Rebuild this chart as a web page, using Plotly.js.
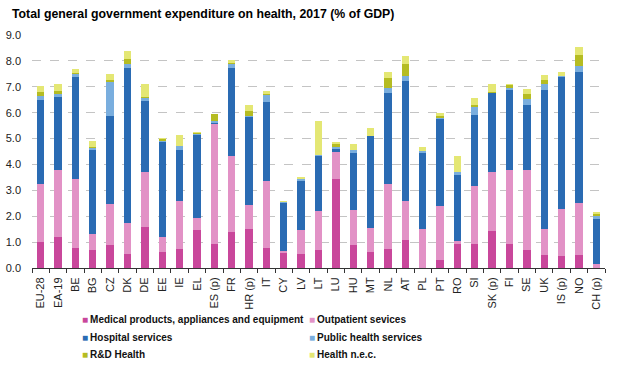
<!DOCTYPE html>
<html>
<head>
<meta charset="utf-8">
<script src="https://cdn.plot.ly/plotly-3.0.1.min.js"></script>
<style>html,body{margin:0;padding:0;background:#fff;}#chart{width:620px;height:368px;}</style>
</head>
<body>
<div id="chart"></div>
<script>
const categories = ["EU-28","EA-19","BE","BG","CZ","DK","DE","EE","IE","EL","ES (p)","FR","HR (p)","IT","CY","LV","LT","LU","HU","MT","NL","AT","PL","PT","RO","SI","SK (p)","FI","SE","UK","IS (p)","NO","CH (p)"];

const medical    = [0.99,1.18,0.77,0.68,0.89,0.53,1.57,0.62,0.73,1.48,0.94,1.41,1.52,0.78,0.58,0.53,0.71,3.43,0.89,0.62,0.73,1.09,0.00,0.32,0.93,0.91,1.44,0.93,0.71,0.50,0.46,0.50,0.00];
const outpatient = [2.26,2.61,2.66,0.63,1.58,1.21,2.13,0.56,1.87,0.46,4.63,2.92,0.91,2.59,0.06,0.92,1.49,1.07,1.36,0.92,2.50,1.49,1.50,2.08,0.12,2.24,2.26,2.84,3.06,1.00,1.82,2.02,0.17];
const hospital   = [3.24,2.81,3.94,3.25,3.40,6.00,2.75,3.67,1.96,3.20,0.02,3.41,3.42,3.03,1.87,1.90,2.11,0.09,2.18,3.54,3.54,4.66,2.93,3.35,2.55,2.76,3.05,3.11,2.54,5.38,5.11,5.06,1.72];
const publicHealth = [0.17,0.11,0.11,0.08,1.33,0.13,0.11,0.07,0.14,0.03,0.07,0.13,0.03,0.27,0.03,0.07,0.05,0.08,0.11,0.01,0.20,0.19,0.08,0.03,0.09,0.30,0.02,0.06,0.23,0.22,0.01,0.22,0.13];
const rdHealth   = [0.13,0.14,0.04,0.04,0.06,0.19,0.03,0.08,0.02,0.03,0.28,0.06,0.20,0.05,0.02,0.02,0.01,0.12,0.02,0.01,0.36,0.45,0.02,0.09,0.01,0.09,0.02,0.12,0.18,0.16,0.01,0.44,0.08];
const healthNec  = [0.23,0.25,0.17,0.24,0.22,0.32,0.52,0.04,0.41,0.04,0.02,0.10,0.21,0.13,0.02,0.06,1.29,0.07,0.23,0.29,0.25,0.31,0.15,0.13,0.63,0.27,0.32,0.04,0.20,0.18,0.16,0.28,0.06];

const seriesNames = ["Medical products, appliances and equipment","Outpatient sevices","Hospital services","Public health services","R&D Health","Health n.e.c."];
const seriesValues = [medical, outpatient, hospital, publicHealth, rdHealth, healthNec];
const seriesColors = ["#c9479b","#e292c6","#2a6bb3","#7aaede","#b5bc22","#e4e774"];
const legendIds = ["legend","legend","legend2","legend2","legend3","legend3"];

const barTraces = seriesNames.map((name, i) => ({
  type: "bar",
  name: name,
  x: categories,
  y: seriesValues[i],
  marker: {color: seriesColors[i], line: {width: 0}},
  showlegend: false,
  legendgroup: "g" + i
}));

// legend-only entries: the coloured key is a small square glyph in the label
const keyTraces = seriesNames.map((name, i) => ({
  type: "scatter",
  mode: "markers",
  name: '<span style="color:' + seriesColors[i] + '">\u25A0</span>\u2009' + name,
  x: [null],
  y: [null],
  marker: {symbol: "square", size: 1, color: "rgba(0,0,0,0)"},
  legend: legendIds[i],
  legendgroup: "g" + i,
  showlegend: true
}));

const legendBase = {
  orientation: "h",
  xref: "container", yref: "container",
  x: 42 / 620, xanchor: "left", yanchor: "top",
  entrywidth: 182, entrywidthmode: "pixels",
  itemwidth: 30,
  font: {size: 10, color: "#111", family: "Arial, 'Liberation Sans', sans-serif", weight: "bold"},
  traceorder: "normal",
  bgcolor: "rgba(0,0,0,0)",
  borderwidth: 0
};

const layout = {
  width: 620,
  height: 368,
  barmode: "stack",
  bargap: 0.58,
  paper_bgcolor: "#ffffff",
  plot_bgcolor: "#ffffff",
  font: {family: "Arial, 'Liberation Sans', sans-serif", size: 11, color: "#222"},
  margin: {l: 32, r: 15, t: 35, b: 100, pad: 0, autoexpand: false},
  title: {
    text: "<b>Total general government expenditure on health, 2017 (% of GDP)</b>",
    font: {size: 12.3, color: "#000", family: "Arial, 'Liberation Sans', sans-serif"},
    xref: "container", x: 12 / 620, xanchor: "left",
    yref: "container", y: 1 - 14 / 368, yanchor: "middle"
  },
  xaxis: {
    type: "category",
    categoryorder: "array",
    categoryarray: categories,
    tickangle: -90,
    automargin: false,
    showline: true, linecolor: "#333", linewidth: 1,
    ticks: "outside", tickson: "boundaries", ticklen: 4, tickcolor: "#333",
    ticklabelstandoff: 4,
    showgrid: false,
    tickfont: {size: 11, color: "#222"},
    fixedrange: true
  },
  yaxis: {
    range: [0, 9],
    dtick: 1,
    tickformat: ".1f",
    automargin: false,
    showline: false,
    zeroline: false,
    showgrid: true, gridcolor: "#c4c4c4", griddash: "dash", gridwidth: 1,
    tickfont: {size: 11, color: "#222"},
    ticks: "",
    ticklabelstandoff: 10,
    fixedrange: true
  },
  showlegend: true,
  legend:  Object.assign({}, legendBase, {y: 1 - 305 / 368}),
  legend2: Object.assign({}, legendBase, {y: 1 - 323 / 368}),
  legend3: Object.assign({}, legendBase, {y: 1 - 340 / 368})
};

Plotly.newPlot("chart", barTraces.concat(keyTraces), layout, {displayModeBar: false, staticPlot: true});
</script>
</body>
</html>
